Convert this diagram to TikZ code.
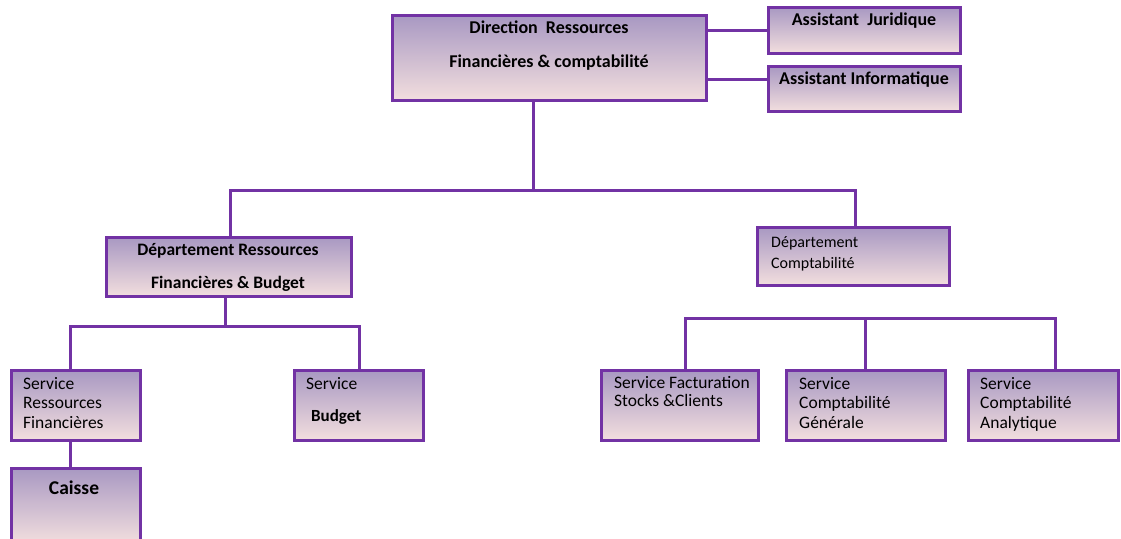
\documentclass[tikz,border=0pt]{standalone}
\usepackage{fontspec}
\setmainfont{Carlito}
\definecolor{bord}{HTML}{7232A4}
\definecolor{topc}{HTML}{A898C2}
\definecolor{botc}{HTML}{F2DEDE}
\tikzset{
  box/.style={draw=bord, line width=3pt, top color=topc, bottom color=botc, inner sep=0pt},
  link/.style={draw=bord, line width=3pt},
  lbl/.style={inner sep=0pt, anchor=base west, font=\fontsize{17.5}{19}\selectfont},
  blbl/.style={inner sep=0pt, anchor=base, font=\bfseries\fontsize{17.5}{19}\selectfont},
}
\begin{document}
\begin{tikzpicture}[x=1pt,y=-1pt]
\useasboundingbox (0,0) rectangle (1121,538);
% boxes
\node[box, minimum width=314pt, minimum height=85pt] (dirb) at (549,57.5) {};
\node[box, minimum width=192pt, minimum height=46pt] (aj) at (864,30) {};
\node[box, minimum width=192pt, minimum height=45pt] (ai) at (864,88.5) {};
\node[box, minimum width=245pt, minimum height=59pt] (drf) at (228.5,266.5) {};
\node[box, minimum width=192pt, minimum height=58pt] (dc) at (853,256) {};
\node[box, minimum width=129pt, minimum height=70pt] (srf) at (75.5,405) {};
\node[box, minimum width=129pt, minimum height=70pt] (sb) at (358.5,405) {};
\node[box, minimum width=129pt, minimum height=75pt] (cai) at (75.5,505.5) {};
\node[box, minimum width=157pt, minimum height=70pt] (sf) at (679.5,405) {};
\node[box, minimum width=159pt, minimum height=70pt] (scg) at (865.5,405) {};
\node[box, minimum width=150pt, minimum height=70pt] (sca) at (1043,405) {};
% texts
\node[blbl, font=\bfseries\fontsize{18}{19}\selectfont] (t1a) at (549,33) {Direction\ \ Ressources};
\node[blbl, font=\bfseries\fontsize{18}{19}\selectfont] (t1b) at (549,67) {Financières \& comptabilité};
\node[blbl, font=\bfseries\fontsize{18}{19}\selectfont] (t2) at (864,25) {Assistant\ \ Juridique};
\node[blbl, font=\bfseries\fontsize{18}{19}\selectfont] (t3) at (864,84) {Assistant Informatique};
\node[blbl] (t4a) at (228,255) {Département Ressources};
\node[blbl] (t4b) at (228,288) {Financières \& Budget};
\node[lbl, font=\fontsize{16}{19}\selectfont] (t5a) at (771,247) {Département};
\node[lbl, font=\fontsize{16}{19}\selectfont] (t5b) at (771,268) {Comptabilité};
\node[lbl] (t6a) at (23,389) {Service};
\node[lbl] (t6b) at (23,408) {Ressources};
\node[lbl] (t6c) at (23,428) {Financières};
\node[lbl] (t7) at (306,389) {Service};
\node[blbl, anchor=base west, font=\bfseries\fontsize{17}{19}\selectfont] (t8) at (311,421) {Budget};
\node[blbl, font=\bfseries\fontsize{19.5}{19}\selectfont] (t9) at (74,494) {Caisse};
\node[lbl] (t10a) at (614,388) {Service Facturation};
\node[lbl] (t10b) at (614,406) {Stocks \&Clients};
\node[lbl] (t11a) at (799,389) {Service};
\node[lbl] (t11b) at (799,408) {Comptabilité};
\node[lbl] (t11c) at (799,428) {Générale};
\node[lbl] (t12a) at (980,389) {Service};
\node[lbl] (t12b) at (980,408) {Comptabilité};
\node[lbl] (t12c) at (980,428) {Analytique};
% connectors
\coordinate (j1) at (533,190);
\draw[link] (dirb.east |- 0,30) -- (aj.west |- 0,30);
\draw[link] (dirb.east |- 0,79) -- (ai.west |- 0,79);
\draw[link] (dirb.south -| j1) -- (j1);
\draw[link] (drf.north -| 230,0) |- (j1) -| (dc.north -| 855,0);
\coordinate (j2) at (225,326);
\draw[link] (drf.south -| j2) -- (j2);
\draw[link] (srf.north -| 70,0) |- (j2) -| (sb.north -| 359,0);
\draw[link] (srf.south -| 70,0) -- (cai.north -| 70,0);
\coordinate (j3) at (865,318);
\draw[link] (sf.north -| 685,0) |- (j3) -| (sca.north -| 1055,0);
\draw[link] (j3) -- (scg.north -| j3);
\end{tikzpicture}
\end{document}
